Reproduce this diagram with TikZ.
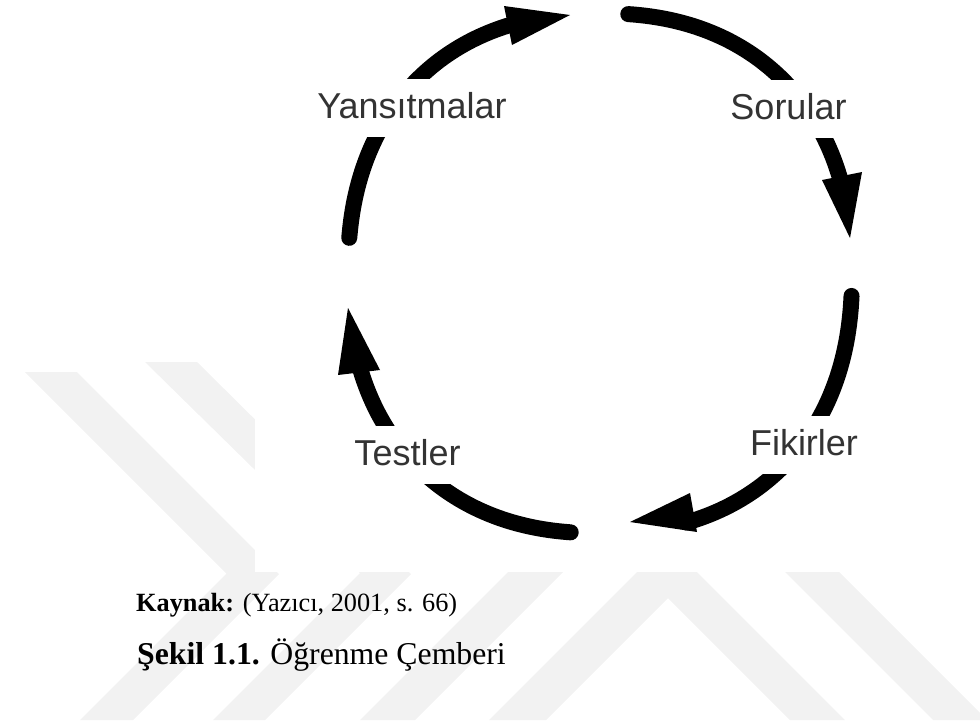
\documentclass[tikz,border=0pt]{standalone}
\usepackage{fontspec}
\setmainfont{Liberation Serif}
\newfontfamily\lblfont{Liberation Sans}
\definecolor{wm}{RGB}{242,242,242}
\definecolor{lblgray}{RGB}{51,51,51}
\begin{document}
\begin{tikzpicture}[x=1pt,y=-1pt,
  wmband/.style={fill=wm,draw=none},
  cyc/.style={line width=16pt,line cap=round,line join=round,draw=black},
  headtip/.style={fill=black,draw=none},
  lbl/.style={font=\lblfont\fontsize{36}{40}\selectfont,text=lblgray,fill=white,
    inner xsep=3pt,inner ysep=0pt,text height=39pt,text depth=18.5pt,anchor=base},
  captxt/.style={inner sep=0pt,anchor=base west,text=black}]
\useasboundingbox (0,0) rectangle (980,726);
% watermark
\fill[wmband] (25,372) -- (77,372) -- (279,574) -- (133,720) -- (80,720) -- (226.5,573.5) -- cycle;
\fill[wmband] (145,362) -- (197,362) -- (411,574) -- (265,720) -- (213,720) -- (360,573) -- cycle;
\fill[wmband] (580,500) -- (635,500) -- (415,720) -- (360,720) -- cycle;
\fill[wmband] (667,542) -- (845,720) -- (790,720) -- (668,598) -- (546,720) -- (489,720) -- cycle;
\fill[wmband] (713,500) -- (767,500) -- (987,720) -- (933,720) -- cycle;
% figure background
\fill[white] (255,0) rectangle (980,572);
\coordinate (c) at (600,273.25);
% arcs
\draw[cyc] plot[domain=106.5:173.9,samples=60] ({600+252*cos(\x)*abs(cos(\x))^(-0.111)},{273.25-260*sin(\x)*abs(sin(\x))^(-0.111)});
\draw[cyc] plot[domain=17:85.1,samples=60] ({600+252*cos(\x)*abs(cos(\x))^(-0.111)},{273.25-260*sin(\x)*abs(sin(\x))^(-0.111)});
\draw[cyc] plot[domain=-72.5:-3.7,samples=60] ({600+252*cos(\x)*abs(cos(\x))^(-0.111)},{273.25-260*sin(\x)*abs(sin(\x))^(-0.111)});
\draw[cyc] plot[domain=-162.5:-95.1,samples=60] ({600+252*cos(\x)*abs(cos(\x))^(-0.111)},{273.25-260*sin(\x)*abs(sin(\x))^(-0.111)});
% arrow heads
\fill[headtip] (570,15) -- (504,6) -- (512,45) -- cycle;
\fill[headtip] (850,238) -- (822,180) -- (862,172) -- cycle;
\fill[headtip] (630,522) -- (690,493) -- (697,532) -- cycle;
\fill[headtip] (348,308) -- (338,375) -- (380,370) -- cycle;
% labels
\node[lbl] (yans) at (412,118.3) {Yansıtmalar};
\node[lbl] (sor) at (788.5,119.3) {Sorular};
\node[lbl] (fik) at (804,455) {Fikirler};
\node[lbl] (test) at (407.5,465) {Testler};
% caption
\node[captxt,font=\fontsize{26.3}{30}\selectfont] (kaynak) at (136,611) {\textbf{Kaynak:} (Yazıcı, 2001, s. 66)};
\node[captxt,font=\fontsize{31.75}{36}\selectfont] (sekil) at (137,664) {\textbf{Şekil 1.1.} Öğrenme Çemberi};
\end{tikzpicture}
\end{document}
